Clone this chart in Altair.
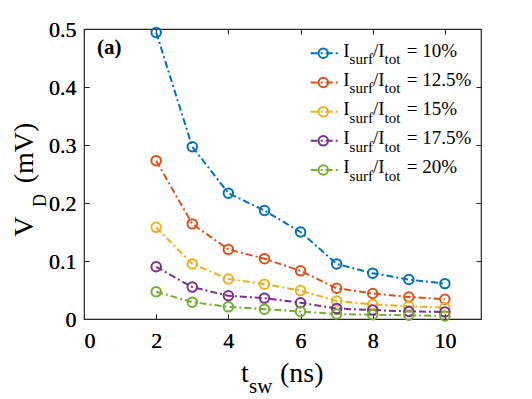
import altair as alt
import pandas as pd

# ---------------- data ----------------
tsw = [2, 3, 4, 5, 6, 7, 8, 9, 10]
ratios = ["10%", "12.5%", "15%", "17.5%", "20%"]
vd_10 = [0.494, 0.297, 0.217, 0.187, 0.150, 0.095, 0.079, 0.068, 0.061]
vd_12_5 = [0.273, 0.164, 0.120, 0.104, 0.083, 0.053, 0.044, 0.038, 0.034]
vd_15 = [0.158, 0.095, 0.069, 0.060, 0.049, 0.031, 0.025, 0.022, 0.0195]
vd_17_5 = [0.090, 0.055, 0.040, 0.036, 0.028, 0.018, 0.0155, 0.013, 0.012]
vd_20 = [0.047, 0.029, 0.021, 0.017, 0.013, 0.0086, 0.0074, 0.0064, 0.0052]
colors = ["#0072BD", "#D95319", "#EDB120", "#7E2F8E", "#77AC30"]
x_ticks = [0, 2, 4, 6, 8, 10]
y_ticks = [0, 0.1, 0.2, 0.3, 0.4, 0.5]

series = [vd_10, vd_12_5, vd_15, vd_17_5, vd_20]
rows = []
for r, vals in zip(ratios, series):
    for t, v in zip(tsw, vals):
        rows.append({"tsw": t, "vd": v, "ratio": r})
df = pd.DataFrame(rows)
leg = pd.DataFrame({"ratio": ratios, "row": list(range(len(ratios))),
                    "eq": ["= " + r for r in ratios]})
one = pd.DataFrame({"k": [0]})

FONT = "Liberation Serif"
INK = "#262626"
DASH = [7, 3, 2, 3]

xs = alt.Scale(domain=[0, 11], nice=False, zero=False)
ys = alt.Scale(domain=[0, 0.5], nice=False, zero=False)
color = alt.Color("ratio:N", scale=alt.Scale(domain=ratios, range=colors), legend=None)

common = dict(grid=False, domain=False, tickColor=INK, tickSize=5, tickWidth=1,
              offset=-5, labelFont=FONT, labelFontSize=22, labelColor="black", title=None)

xb = alt.X("tsw:Q", scale=xs, axis=alt.Axis(orient="bottom", values=x_ticks, format="d",
                                             labelPadding=11, **common))
yl = alt.Y("vd:Q", scale=ys, axis=alt.Axis(orient="left", values=y_ticks, format=".1~f",
                                           labelPadding=8, **common))
xt = alt.X("tsw:Q", scale=xs, axis=alt.Axis(orient="top", values=x_ticks, labels=False, **common))
yr = alt.Y("vd:Q", scale=ys, axis=alt.Axis(orient="right", values=y_ticks, labels=False, **common))

lines = alt.Chart(df).mark_line(strokeDash=DASH, strokeWidth=2).encode(x=xb, y=yl, color=color)
points = alt.Chart(df).mark_point(shape="circle", filled=False, size=90, strokeWidth=2,
                                  opacity=1).encode(x=xb, y=yl, color=color)
mirror = alt.Chart(df).mark_point(opacity=0).encode(x=xt, y=yr)
main = alt.layer(lines, points, mirror)

# ---------------- legend ----------------
ls = alt.Y("row:Q", scale=alt.Scale(domain=[0, 4], range=[24.3, 141]), axis=None)
lrule = alt.Chart(leg).mark_rule(strokeDash=DASH, strokeWidth=2).encode(
    x=alt.value(226.7), x2=alt.value(256.7), y=ls, color=color)
lpt = alt.Chart(leg).mark_point(shape="circle", filled=False, size=90, strokeWidth=2,
                                opacity=1).encode(x=alt.value(239.3), y=ls, color=color)


def ltxt(txt, x, size, dy, field=False):
    m = alt.Chart(leg).mark_text(align="left", baseline="alphabetic", font=FONT,
                                 fontSize=size, dy=dy, color="black")
    return m.encode(x=alt.value(x), y=ls,
                    text=alt.Text("eq:N") if field else alt.value(txt))


legend = alt.layer(
    lrule, lpt,
    ltxt("I", 259.3, 19, 3.4),
    ltxt("surf", 265.6, 15, 11),
    ltxt("/I", 289, 19, 3.4),
    ltxt("tot", 300.5, 15, 11),
    ltxt(None, 322.7, 19, 3.4, field=True),
)


# ---------------- titles / annotation ----------------
def txt(s, x, y, size, angle=0, bold=False):
    kw = dict(align="left", baseline="alphabetic", font=FONT, fontSize=size, color="black")
    if angle:
        kw["angle"] = angle
    if bold:
        kw["fontWeight"] = "bold"
    return alt.Chart(one).mark_text(**kw).encode(
        x=alt.value(x), y=alt.value(y), text=alt.value(s))


titles = alt.layer(
    txt("t", 157, 352.7, 28),
    txt("sw", 165, 364.3, 21),
    txt("(ns)", 196, 352.7, 28),
    txt("V", -51, 207.7, 28, angle=270),
    txt("D", -38, 178, 18, angle=270),
    txt("(mV)", -51, 154.3, 28, angle=270),
    txt("(a)", 13, 25, 21, bold=True),
)

chart = alt.layer(main, legend, titles).resolve_scale(y="independent").properties(
    width=397, height=290,
    padding={"left": 76, "top": 21, "right": 40, "bottom": 80},
    autosize=alt.AutoSizeParams(type="none"),
).configure(font=FONT).configure_text(font=FONT).configure_axis(
    labelFont=FONT, titleFont=FONT
).configure_view(stroke=INK, strokeWidth=1.2)

chart.save("out.html", embed_options={"renderer": "svg", "actions": False})
